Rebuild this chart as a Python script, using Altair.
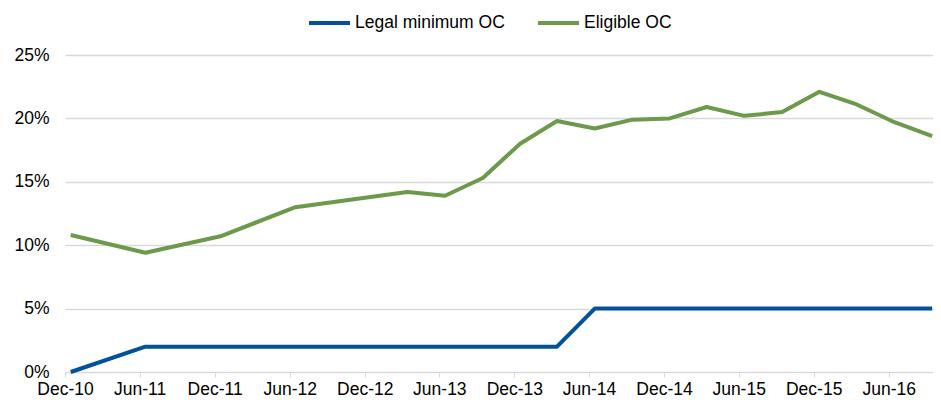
import altair as alt
import pandas as pd

dates = ["2010-12-15", "2011-06-15", "2011-12-15", "2012-06-15", "2012-12-15",
         "2013-03-15", "2013-06-15", "2013-09-15", "2013-12-15", "2014-03-15",
         "2014-06-15", "2014-09-15", "2014-12-15", "2015-03-15", "2015-06-15",
         "2015-09-15", "2015-12-15", "2016-03-15", "2016-06-15", "2016-09-15"]
legal_min = [0, 2, 2, 2, 2, 2, 2, 2, 2, 2, 5, 5, 5, 5, 5, 5, 5, 5, 5, 5]
eligible = [10.8, 9.4, 10.7, 13.0, 13.8, 14.2, 13.9, 15.3, 18.0, 19.8,
            19.2, 19.9, 20.0, 20.9, 20.2, 20.5, 22.1, 21.1, 19.7, 18.6]
series_names = ["Legal minimum OC", "Eligible OC"]
series_colors = ["#02519a", "#6c9a4a"]
tick_months = [(2010, 12), (2011, 6), (2011, 12), (2012, 6), (2012, 12), (2013, 6),
               (2013, 12), (2014, 6), (2014, 12), (2015, 6), (2015, 12), (2016, 6)]
y_ticks = [0, 5, 10, 15, 20, 25]

rows = []
for d, v in zip(dates, legal_min):
    rows.append({"date": d, "value": v / 100, "series": series_names[0]})
for d, v in zip(dates, eligible):
    rows.append({"date": d, "value": v / 100, "series": series_names[1]})
df = pd.DataFrame(rows)

FONT = "Liberation Sans"
FS = 17.5

x_values = [alt.DateTime(year=y, month=m, date=1, utc=True) for y, m in tick_months]

chart = alt.Chart(df).mark_line(strokeWidth=4, strokeJoin="round").encode(
    x=alt.X("date:T",
            scale=alt.Scale(type="utc",
                            domain=[alt.DateTime(year=2010, month=12, date=1, utc=True),
                                    alt.DateTime(year=2016, month=9, date=17, utc=True)]),
            axis=alt.Axis(title=None, values=x_values,
                          labelExpr="utcFormat(datum.value, '%b-%y')",
                          grid=False, domainColor="#d9d9d9", tickColor="#d9d9d9",
                          tickSize=5, labelPadding=3, labelFontSize=FS, labelFont=FONT,
                          labelColor="#000000", labelFlush=False, labelOverlap=False)),
    y=alt.Y("value:Q",
            scale=alt.Scale(domain=[0, 0.25], nice=False),
            axis=alt.Axis(title=None, values=[v / 100 for v in y_ticks], format=".0%",
                          grid=True, gridColor="#d9d9d9", gridWidth=1.5, domain=False,
                          ticks=False, labelPadding=16, labelFontSize=FS, labelFont=FONT,
                          labelColor="#000000")),
    color=alt.Color("series:N",
                    scale=alt.Scale(domain=series_names, range=series_colors),
                    sort=series_names,
                    legend=alt.Legend(title=None, orient="none", direction="horizontal",
                                      legendX=242, legendY=-54.5, symbolType="stroke",
                                      symbolSize=1681, symbolStrokeWidth=4,
                                      labelFontSize=FS, labelFont=FONT, labelColor="#000000",
                                      labelOffset=3, columnPadding=25, padding=0)),
).properties(
    width=868,
    height=317,
    padding={"left": 57, "top": 47, "right": 0, "bottom": 28},
    autosize=alt.AutoSizeParams(type="none"),
).configure_view(stroke=None)

chart.save("out.html", embed_options={"renderer": "svg", "actions": False})
